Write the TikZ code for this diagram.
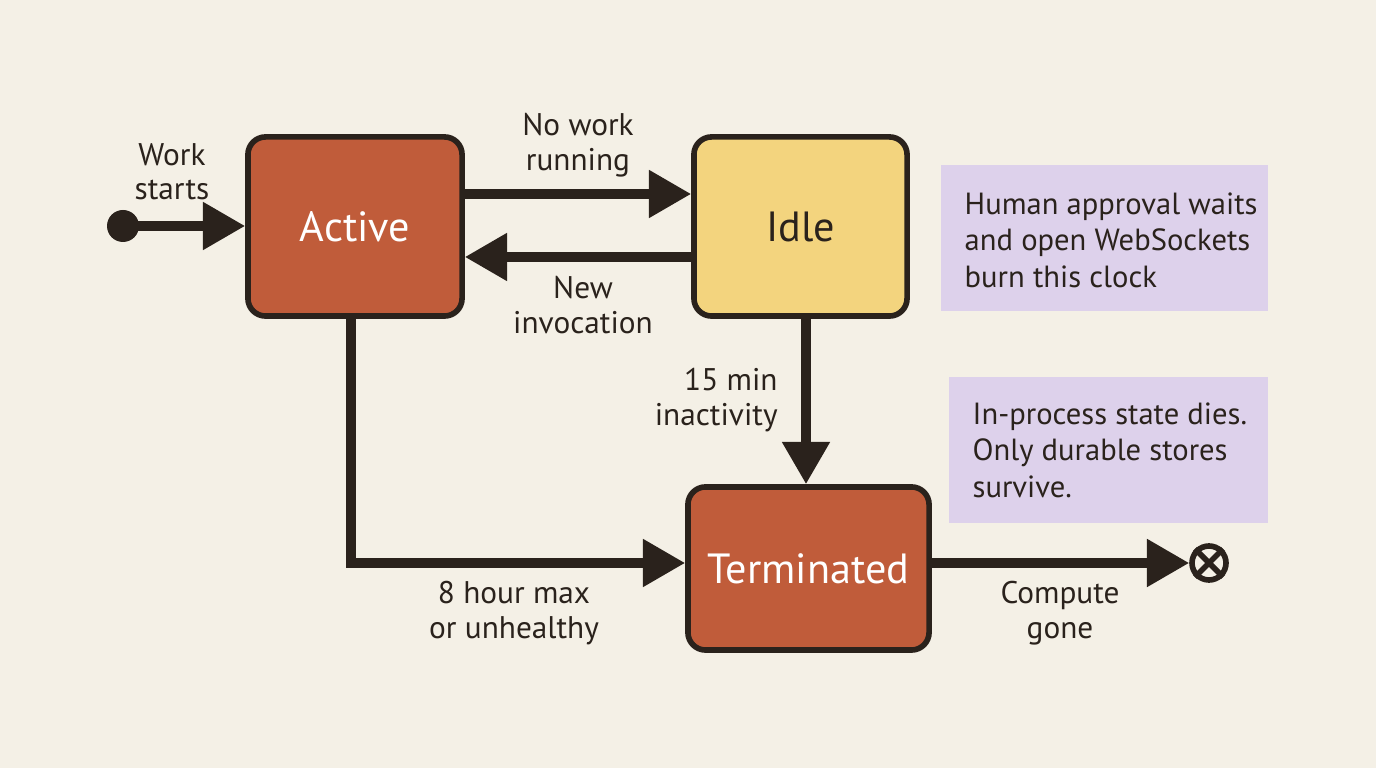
\documentclass[tikz,border=0pt]{standalone}
\usepackage{fontspec}
\setmainfont{PT Sans}
\usetikzlibrary{arrows.meta}
\definecolor{bg}{HTML}{F4F0E6}
\definecolor{ink}{HTML}{2A221C}
\definecolor{rust}{HTML}{C05C3A}
\definecolor{sand}{HTML}{F3D47E}
\definecolor{lav}{HTML}{DDD1EB}
\begin{document}
\begin{tikzpicture}[x=0.01cm,y=-0.01cm,
  state/.style={draw=ink,line width=1.6pt,rounded corners=5pt,inner sep=0pt,font=\fontsize{12}{13}\selectfont},
  note/.style={fill=lav,inner sep=0pt},
  notetext/.style={inner sep=0pt,align=left,font=\fontsize{8.7}{10.4}\selectfont,text=ink},
  lab/.style={align=center,font=\fontsize{8.9}{9.8}\selectfont,text=ink},
  arr/.style={draw=ink,line width=2.6pt,-{Triangle[length=12pt,width=13pt]}}]
\fill[bg] (0,0) rectangle (1376,768);
\node[state,fill=rust,text=white,minimum width=2.14cm,minimum height=1.79cm] (act) at (355,226.5) {Active};
\node[state,fill=sand,text=ink,minimum width=2.13cm,minimum height=1.79cm] (idle) at (800.5,226.5) {Idle};
\node[state,fill=rust,text=white,minimum width=2.41cm,minimum height=1.63cm] (term) at (808.5,568.5) {Terminated};
\node[note,minimum width=3.27cm,minimum height=1.46cm] (n1) at (1104.5,238) {};
\node[notetext,anchor=west] (t1) at (964,240) {Human approval waits\\and open WebSockets\\burn this clock};
\node[note,minimum width=3.19cm,minimum height=1.46cm] (n2) at (1108.5,450) {};
\node[notetext,anchor=west] (t2) at (972,450) {In-process state dies.\\Only durable stores\\survive.};
\fill[ink] (123,226) circle (16) coordinate (st);
\node[circle,draw=ink,line width=1.6pt,minimum size=0.34cm,inner sep=0pt] (end) at (1209,563) {};
\draw[ink,line width=1.6pt] (end.north west)--(end.south east) (end.north east)--(end.south west);
\draw[arr] (st) -- (act.west |- st);
\draw[arr] (act.east |- 0,194) -- (idle.west |- 0,194);
\draw[arr] (idle.west |- 0,257) -- (act.east |- 0,257);
\draw[arr] (idle.south -| 806,0) -- (term.north -| 806,0);
\draw[arr] (act.south -| 351,0) |- (term.west |- 0,563);
\draw[arr] (term.east |- 0,563) -- (end.west);
\node[lab] (l1) at (172,172) {Work\\starts};
\node[lab] (l2) at (578,145) {No work\\running};
\node[lab] (l3) at (583,305) {New\\invocation};
\node[lab,align=right,anchor=east] (l4) at (790,400) {15 min\\inactivity};
\node[lab] (l5) at (514,613) {8 hour max\\or unhealthy};
\node[lab] (l6) at (1060,613) {Compute\\gone};
\end{tikzpicture}
\end{document}
